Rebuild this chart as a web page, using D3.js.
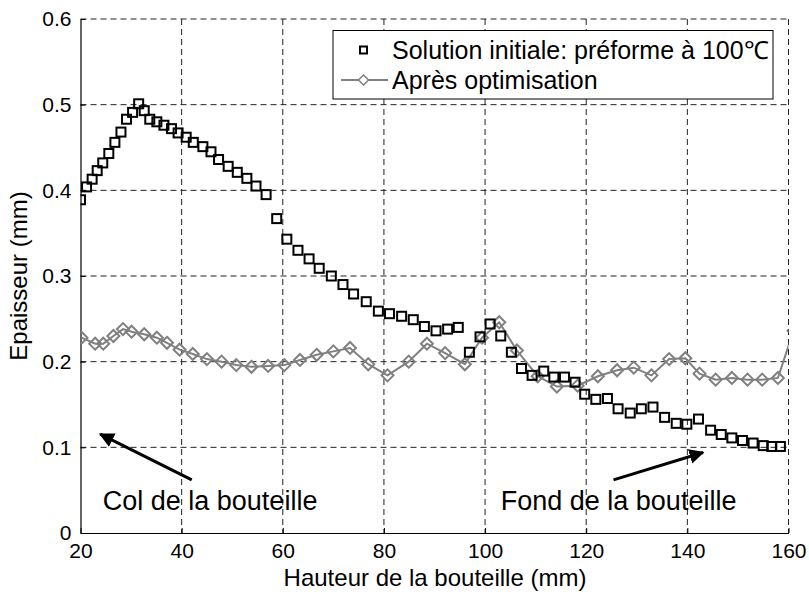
<!DOCTYPE html>
<html><head><meta charset="utf-8">
<script src="https://cdn.jsdelivr.net/npm/d3@7"></script>
<style>
html,body{margin:0;padding:0;background:#fff;}
svg{display:block;font-family:"Liberation Sans",Arial,sans-serif;}
</style></head>
<body>
<svg id="c" width="809" height="592"></svg>
<script>
// ---- data ----
const initX = [20.0,21.2,22.3,23.3,24.4,25.6,26.8,28.0,29.1,30.3,31.5,32.6,33.7,35.1,36.5,38.0,39.3,40.9,42.3,44.2,45.8,47.3,49.2,51.0,52.9,54.7,56.7,58.8,60.8,63.0,65.2,67.2,69.6,71.9,74.0,76.5,78.9,81.1,83.5,85.8,88.0,90.3,92.6,94.7,96.9,99.0,101.0,103.1,105.2,107.2,109.3,111.6,113.6,115.7,117.8,119.7,121.9,124.2,126.3,128.7,130.9,133.2,135.5,137.8,139.9,142.2,144.6,146.7,148.8,150.9,153.0,155.0,156.7,158.4];
const initY = [0.389,0.404,0.413,0.423,0.432,0.443,0.456,0.468,0.483,0.491,0.501,0.493,0.483,0.480,0.476,0.472,0.467,0.462,0.456,0.451,0.445,0.436,0.428,0.421,0.414,0.405,0.395,0.367,0.343,0.330,0.320,0.309,0.300,0.290,0.279,0.270,0.259,0.256,0.253,0.249,0.241,0.236,0.238,0.240,0.211,0.229,0.244,0.230,0.211,0.192,0.184,0.189,0.182,0.182,0.176,0.162,0.156,0.157,0.145,0.140,0.145,0.147,0.135,0.128,0.127,0.133,0.120,0.115,0.111,0.108,0.105,0.102,0.101,0.101];
const optX = [20.2,22.9,24.5,26.5,28.4,30.1,32.6,35.1,37.1,39.6,42.2,45.0,47.9,50.8,53.8,57.1,60.3,63.4,66.7,70.0,73.3,76.9,80.7,84.9,88.5,92.1,96.0,99.4,102.8,106.3,110.4,114.2,118.3,122.3,126.1,129.4,132.9,136.4,139.6,142.4,145.6,148.8,151.9,154.8,157.9,161.0];
const optY = [0.228,0.221,0.221,0.230,0.238,0.235,0.232,0.228,0.222,0.214,0.209,0.203,0.200,0.196,0.194,0.195,0.196,0.202,0.208,0.212,0.216,0.197,0.184,0.200,0.221,0.210,0.197,0.228,0.246,0.213,0.183,0.171,0.172,0.183,0.190,0.193,0.184,0.203,0.204,0.186,0.179,0.181,0.179,0.179,0.181,0.236];
const xTicks = [20,40,60,80,100,120,140,160];
const yTicks = [0,0.1,0.2,0.3,0.4,0.5,0.6];
const seriesNames = ["Solution initiale: préforme à 100\u2103","Après optimisation"];
const annotations = [
  {text:"Col de la bouteille", tx:24.4, ty:0.027, from:[42.0,0.062], to:[23.9,0.1155]},
  {text:"Fond de la bouteille", tx:103.1, ty:0.027, from:[125.4,0.062], to:[143.1,0.094]}
];
const xTitle = "Hauteur de la bouteille (mm)";
const yTitle = "Epaisseur (mm)";

// ---- layout ----
const L=80.5, R=788.5, T=19, B=533;
const svg = d3.select("#c");
const x = d3.scaleLinear().domain([20,160]).range([L,R]);
const y = d3.scaleLinear().domain([0,0.6]).range([B,T]);

svg.append("defs").append("clipPath").attr("id","clip")
  .append("rect").attr("x",L).attr("y",T).attr("width",R-L).attr("height",B-T);

// grid
const g = svg.append("g");
g.selectAll(".vg").data(xTicks.filter(d=>d>20)).join("line")
  .attr("x1",d=>x(d)).attr("x2",d=>x(d)).attr("y1",T).attr("y2",B)
  .attr("stroke","#222").attr("stroke-width",1).attr("stroke-dasharray","6,4");
g.selectAll(".hg").data(yTicks.filter(d=>d>0)).join("line")
  .attr("x1",L).attr("x2",R).attr("y1",d=>y(d)).attr("y2",d=>y(d))
  .attr("stroke","#222").attr("stroke-width",1).attr("stroke-dasharray","6,4");

// axes
const xAxis = d3.axisBottom(x).tickValues(xTicks).tickSizeInner(-5).tickSizeOuter(0).tickPadding(10).tickFormat(d3.format("d"));
const yAxis = d3.axisLeft(y).tickValues(yTicks).tickSizeInner(-5).tickSizeOuter(0).tickPadding(9).tickFormat(d=>d===0?"0":d3.format(".1f")(d));
const gx = svg.append("g").attr("transform",`translate(0,${B})`).call(xAxis);
const gy = svg.append("g").attr("transform",`translate(${L},0)`).call(yAxis);
[gx,gy].forEach(a=>{
  a.select(".domain").attr("stroke","#000").attr("stroke-width",1.2);
  a.selectAll(".tick line").attr("stroke","#000");
  a.selectAll("text").attr("fill","#000").style("font-size","21px").style("font-family","'Liberation Sans',Arial,sans-serif");
});

// titles
svg.append("text").attr("x",435).attr("y",586).attr("text-anchor","middle")
  .style("font-size","24px").text(xTitle);
svg.append("text").attr("transform",`translate(27,${(T+B)/2}) rotate(-90)`).attr("text-anchor","middle")
  .style("font-size","24px").text(yTitle);

// data
const plot = svg.append("g").attr("clip-path","url(#clip)");
const optData = optX.map((v,i)=>[v,optY[i]]);
const initData = initX.map((v,i)=>[v,initY[i]]);
plot.append("path").datum(optData)
  .attr("d",d3.line().x(d=>x(d[0])).y(d=>y(d[1])))
  .attr("fill","none").attr("stroke","#808080").attr("stroke-width",2);
const dia = 6;
plot.selectAll(".dia").data(optData).join("path")
  .attr("d",d=>`M${x(d[0])},${y(d[1])-dia}L${x(d[0])+dia},${y(d[1])}L${x(d[0])},${y(d[1])+dia}L${x(d[0])-dia},${y(d[1])}Z`)
  .attr("fill","none").attr("stroke","#808080").attr("stroke-width",2);
const sq = 9;
plot.selectAll(".sq").data(initData).join("rect")
  .attr("x",d=>x(d[0])-sq/2).attr("y",d=>y(d[1])-sq/2).attr("width",sq).attr("height",sq)
  .attr("fill","none").attr("stroke","#000").attr("stroke-width",2);

// annotations
const defs = svg.select("defs");
defs.append("marker").attr("id","ah").attr("viewBox","0 0 10 10").attr("refX",9).attr("refY",5)
  .attr("markerWidth",5).attr("markerHeight",5).attr("orient","auto")
  .append("path").attr("d","M0,0L10,5L0,10Z").attr("fill","#000");
annotations.forEach(a=>{
  svg.append("line").attr("x1",x(a.from[0])).attr("y1",y(a.from[1]))
    .attr("x2",x(a.to[0])).attr("y2",y(a.to[1]))
    .attr("stroke","#000").attr("stroke-width",3).attr("marker-end","url(#ah)");
  svg.append("text").attr("x",x(a.tx)).attr("y",y(a.ty)).style("font-size","27px").text(a.text);
});

// legend
const lg = svg.append("g");
lg.append("rect").attr("x",333).attr("y",30.5).attr("width",440).attr("height",68.5)
  .attr("fill","#fff").attr("stroke","#000").attr("stroke-width",1);
lg.append("rect").attr("x",363.5-3.5).attr("y",50-3.5).attr("width",7).attr("height",7)
  .attr("fill","none").attr("stroke","#000").attr("stroke-width",2);
lg.append("line").attr("x1",341).attr("x2",388).attr("y1",80).attr("y2",80).attr("stroke","#808080").attr("stroke-width",2);
lg.append("path").attr("d",`M363.5,75L368.5,80L363.5,85L358.5,80Z`).attr("fill","#fff").attr("stroke","#808080").attr("stroke-width",1.5);
lg.selectAll(".lt").data(seriesNames).join("text")
  .attr("x",392).attr("y",(d,i)=>50+i*30+8.5).style("font-size","25px").text(d=>d);
</script>
</body></html>
